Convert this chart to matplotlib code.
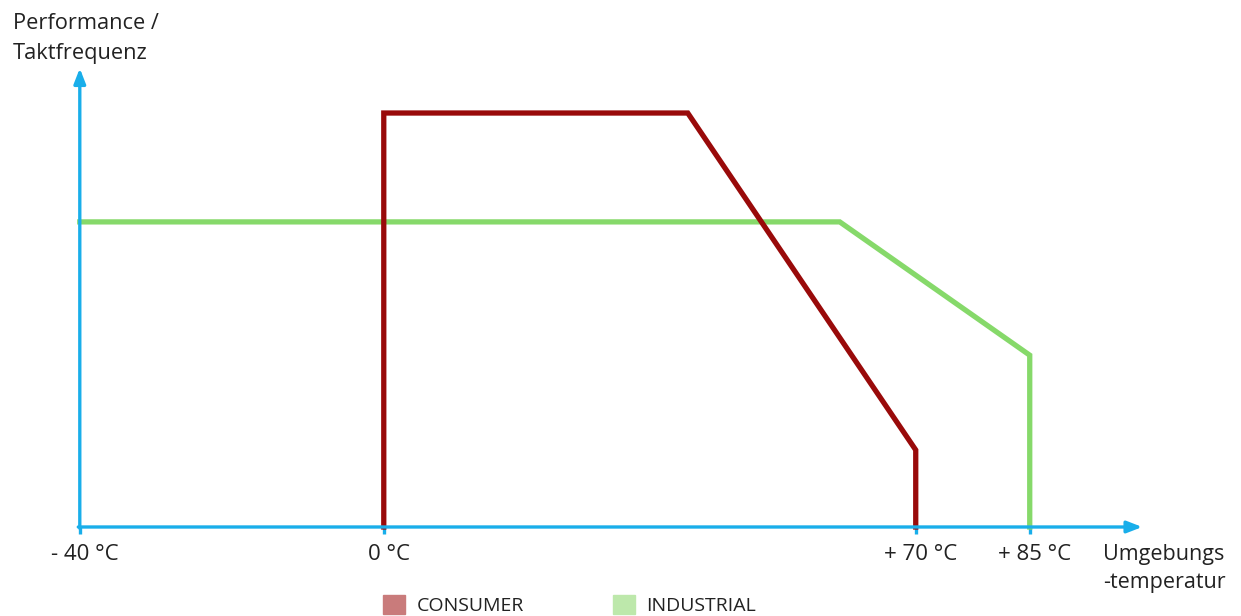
import matplotlib
matplotlib.use('Agg')
import matplotlib.pyplot as plt
from matplotlib.patches import Patch

plt.rcParams['font.family'] = ['Open Sans', 'DejaVu Sans']

# temperature (degC) / relative performance
consumer_t = [0, 0, 40, 70, 70]
consumer_p = [0, 100, 100, 18.6, 0]
industrial_t = [-40, 60, 85, 85]
industrial_p = [73.7, 73.7, 41.5, 0]

tick_t = [-40, 0, 70, 85]
tick_labels = ['- 40 °C', '0 °C', '+ 70 °C', '+ 85 °C']

axis_col = '#19aeea'
cons_col = '#990a0a'
ind_col = '#86d96a'
txt_col = '#222222'

fig = plt.figure(figsize=(12.41, 6.16), dpi=100)
ax = fig.add_axes([0, 0, 1, 1])
ax.set_xlim(-50.5, 112.8)
ax.set_ylim(-21.5, 127.3)
ax.axis('off')

# axes with arrows
ax.annotate('', xy=(99.8, 0), xytext=(-40.2, 0),
            arrowprops=dict(arrowstyle='-|>,head_length=0.9,head_width=0.35',
                            color=axis_col, lw=2.4, shrinkA=0, shrinkB=0))
ax.annotate('', xy=(-40, 110.8), xytext=(-40, -0.3),
            arrowprops=dict(arrowstyle='-|>,head_length=0.9,head_width=0.35',
                            color=axis_col, lw=2.4, shrinkA=0, shrinkB=0))
for t in tick_t:
    ax.plot([t, t], [0, -1.8], color=axis_col, lw=2.4, solid_capstyle='butt')

ax.plot(industrial_t, industrial_p, color=ind_col, lw=3.8, solid_joinstyle='miter')
ax.plot(consumer_t, consumer_p, color=cons_col, lw=3.8, solid_joinstyle='miter')

for t, lab in zip(tick_t, tick_labels):
    ax.text(t + 0.7, -4.1, lab, ha='center', va='top', fontsize=16, color=txt_col)

ax.text(-48.8, 124.1, 'Performance /\nTaktfrequenz', ha='left', va='top',
        fontsize=15.7, color=txt_col, linespacing=1.55)
ax.text(94.6, -4.0, 'Umgebungs\n-temperatur', ha='left', va='top',
        fontsize=15.5, color=txt_col, linespacing=1.45)

handles = [Patch(color='#c97b7b', label='CONSUMER'),
           Patch(color='#bde8ab', label='INDUSTRIAL')]
fig.legend(handles=handles, loc='center', bbox_to_anchor=(0.459, 0.018),
           ncol=2, frameon=False, fontsize=14, handlelength=1.1,
           handleheight=1.1, columnspacing=4.6, handletextpad=0.6,
           labelcolor=txt_col)

fig.savefig('out.png', dpi=100)
